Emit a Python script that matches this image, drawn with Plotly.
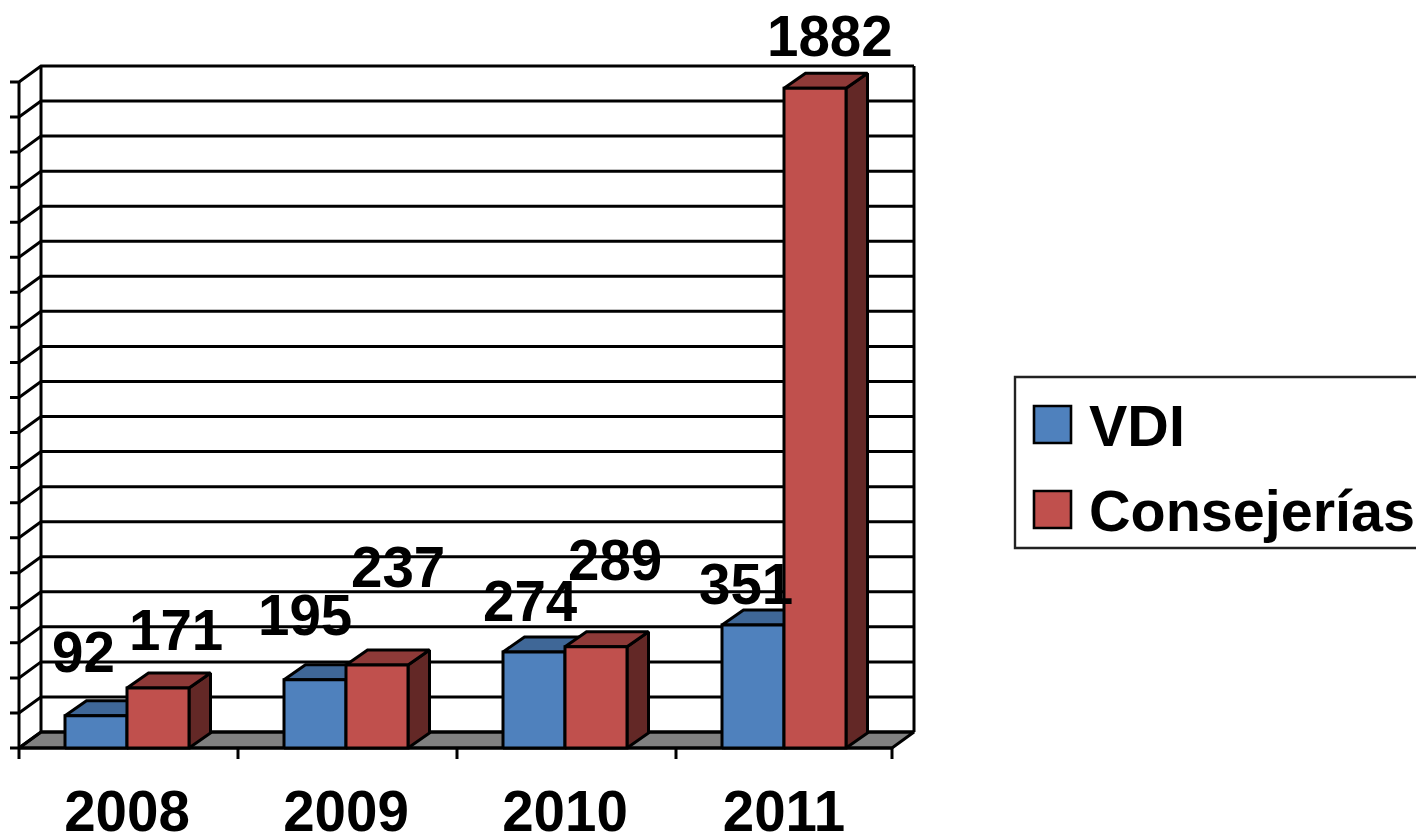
"""VDI vs Consejerías per year, drawn as an Excel-style 3D clustered column chart."""
import plotly.graph_objects as go

YEARS = ["2008", "2009", "2010", "2011"]
VDI = [92, 195, 274, 351]
CONSEJERIAS = [171, 237, 289, 1882]
Y_TICKS = list(range(0, 2000, 100))

BLUE, BLUE_TOP = "#4F81BD", "#3F6797"
RED, RED_TOP, RED_SIDE = "#C0504D", "#8E3A38", "#632826"
FONT = "Liberation Sans"
LINE = 3
WIDTH, HEIGHT = 1416, 834

# front face of the box in px: x 19-892, y 82-748
L, R, T, B = 19, 892, 82, 748
PLOT_BOTTOM = 761  # lines get clipped at the plot area, so it spans the whole page
PX_X = 219
PX_Y = (B - T) / 1900
BOX_W = (R - L) / PX_X  # last category comes up a little short in the original
CENTRE = 108 / PX_X
BAR_W = 62 / PX_X
WALL_DX, WALL_DY = 22 / PX_X, 16 / PX_Y
BAR_DX, BAR_DY = 21.5 / PX_X, 15 / PX_Y
TICK_X, TICK_Y = 9 / PX_X, 11 / PX_Y

# label nudges (px) from the top of each column
VDI_SHIFT = [(-13, 63), (-10, 64), (-4, 50), (-7, 40)]
CONS_SHIFT = [(18, 58), (21, 97), (19, 86), (15, 52)]

fig = go.Figure()


def poly(xs, ys, fill, name):
    fig.add_trace(go.Scatter(
        x=xs, y=ys, mode="lines", fill="toself", fillcolor=fill, name=name,
        line=dict(color="black", width=LINE), showlegend=False, hoverinfo="skip",
    ))


def column(x0, value, front, top, side, name):
    x1 = x0 + BAR_W
    poly([x1, x1, x1 + BAR_DX, x1 + BAR_DX, x1],
         [0, value, value + BAR_DY, BAR_DY, 0], side, name)
    poly([x0, x0 + BAR_DX, x1 + BAR_DX, x1, x0],
         [value, value + BAR_DY, value + BAR_DY, value, value], top, name)
    poly([x0, x0, x1, x1, x0], [0, value, value, 0, 0], front, name)


n = len(YEARS)
y_top = Y_TICKS[-1]

# floor
poly([0, WALL_DX, BOX_W + WALL_DX, BOX_W, 0], [0, WALL_DY, WALL_DY, 0, 0], "#808080", "floor")

# box lines: grid on the back wall, slants on the side wall, ticks on the front edge
box_x, box_y = [], []
for v in Y_TICKS:
    box_x += [-TICK_X, 0, WALL_DX, BOX_W + WALL_DX, None]
    box_y += [v, v, v + WALL_DY, v + WALL_DY, None]
for edge in [0, 1, 2, 3, BOX_W]:
    box_x += [edge, edge, None]
    box_y += [0, -TICK_Y, None]
box_x += [0, 0, None, WALL_DX, WALL_DX, None, BOX_W + WALL_DX, BOX_W + WALL_DX, None, 0, BOX_W]
box_y += [0, y_top, None, WALL_DY, y_top + WALL_DY, None, WALL_DY, y_top + WALL_DY, None, 0, 0]
fig.add_trace(go.Scatter(
    x=box_x, y=box_y, mode="lines", line=dict(color="black", width=LINE),
    showlegend=False, hoverinfo="skip",
))

for i in range(n):
    column(i + CENTRE - BAR_W, VDI[i], BLUE, BLUE_TOP, BLUE_TOP, "VDI")
    column(i + CENTRE, CONSEJERIAS[i], RED, RED_TOP, RED_SIDE, "Consejerías")


def value_label(x, value, shift):
    fig.add_annotation(
        x=x, y=value, text=f"<b>{value}</b>", showarrow=False,
        xanchor="center", yanchor="middle", xshift=shift[0], yshift=shift[1],
        font=dict(family=FONT, size=56.5, color="black"),
    )


for i in range(n):
    value_label(i + CENTRE - BAR_W / 2, VDI[i], VDI_SHIFT[i])
    value_label(i + CENTRE + BAR_W / 2, CONSEJERIAS[i], CONS_SHIFT[i])


def px_x(px):
    return px / WIDTH


def px_y(px):
    return (PLOT_BOTTOM - px) / PLOT_BOTTOM


# legend box, runs off the right edge like the original
fig.add_shape(type="rect", xref="paper", yref="paper",
              x0=px_x(1015), x1=px_x(1425), y0=px_y(548), y1=px_y(377),
              line=dict(color="#222222", width=2.4), fillcolor="white")
for name, color, top, mid in [("VDI", BLUE, 406, 426), ("Consejerías", RED, 491, 511)]:
    fig.add_shape(type="rect", xref="paper", yref="paper",
                  x0=px_x(1034), x1=px_x(1071), y0=px_y(top + 37), y1=px_y(top),
                  line=dict(color="black", width=2.6), fillcolor=color)
    fig.add_annotation(
        xref="paper", yref="paper", x=px_x(1087), y=px_y(mid), text=f"<b>{name}</b>",
        showarrow=False, xanchor="left", yanchor="middle",
        font=dict(family=FONT, size=57.5, color="black"),
    )

fig.update_layout(
    width=WIDTH, height=HEIGHT,
    margin=dict(l=0, r=0, t=0, b=HEIGHT - PLOT_BOTTOM, pad=0),
    paper_bgcolor="white", plot_bgcolor="white",
    showlegend=False,
    xaxis=dict(
        range=[-L / PX_X, (WIDTH - L) / PX_X], automargin=False,
        showgrid=False, zeroline=False, showline=False,
        tickvals=[i + CENTRE for i in range(n)],
        ticktext=[f"<b>{y}</b>" for y in YEARS],
        ticks="outside", ticklen=1, tickcolor="rgba(0,0,0,0)",
        tickfont=dict(family=FONT, size=56.5, color="black"),
    ),
    yaxis=dict(
        range=[(B - PLOT_BOTTOM) / PX_Y, B / PX_Y], automargin=False,
        showgrid=False, zeroline=False, showline=False,
        showticklabels=False, ticks="",
    ),
)

fig.write_html("out.html", config=dict(displayModeBar=False),
               post_script="document.body.style.margin='0';")
